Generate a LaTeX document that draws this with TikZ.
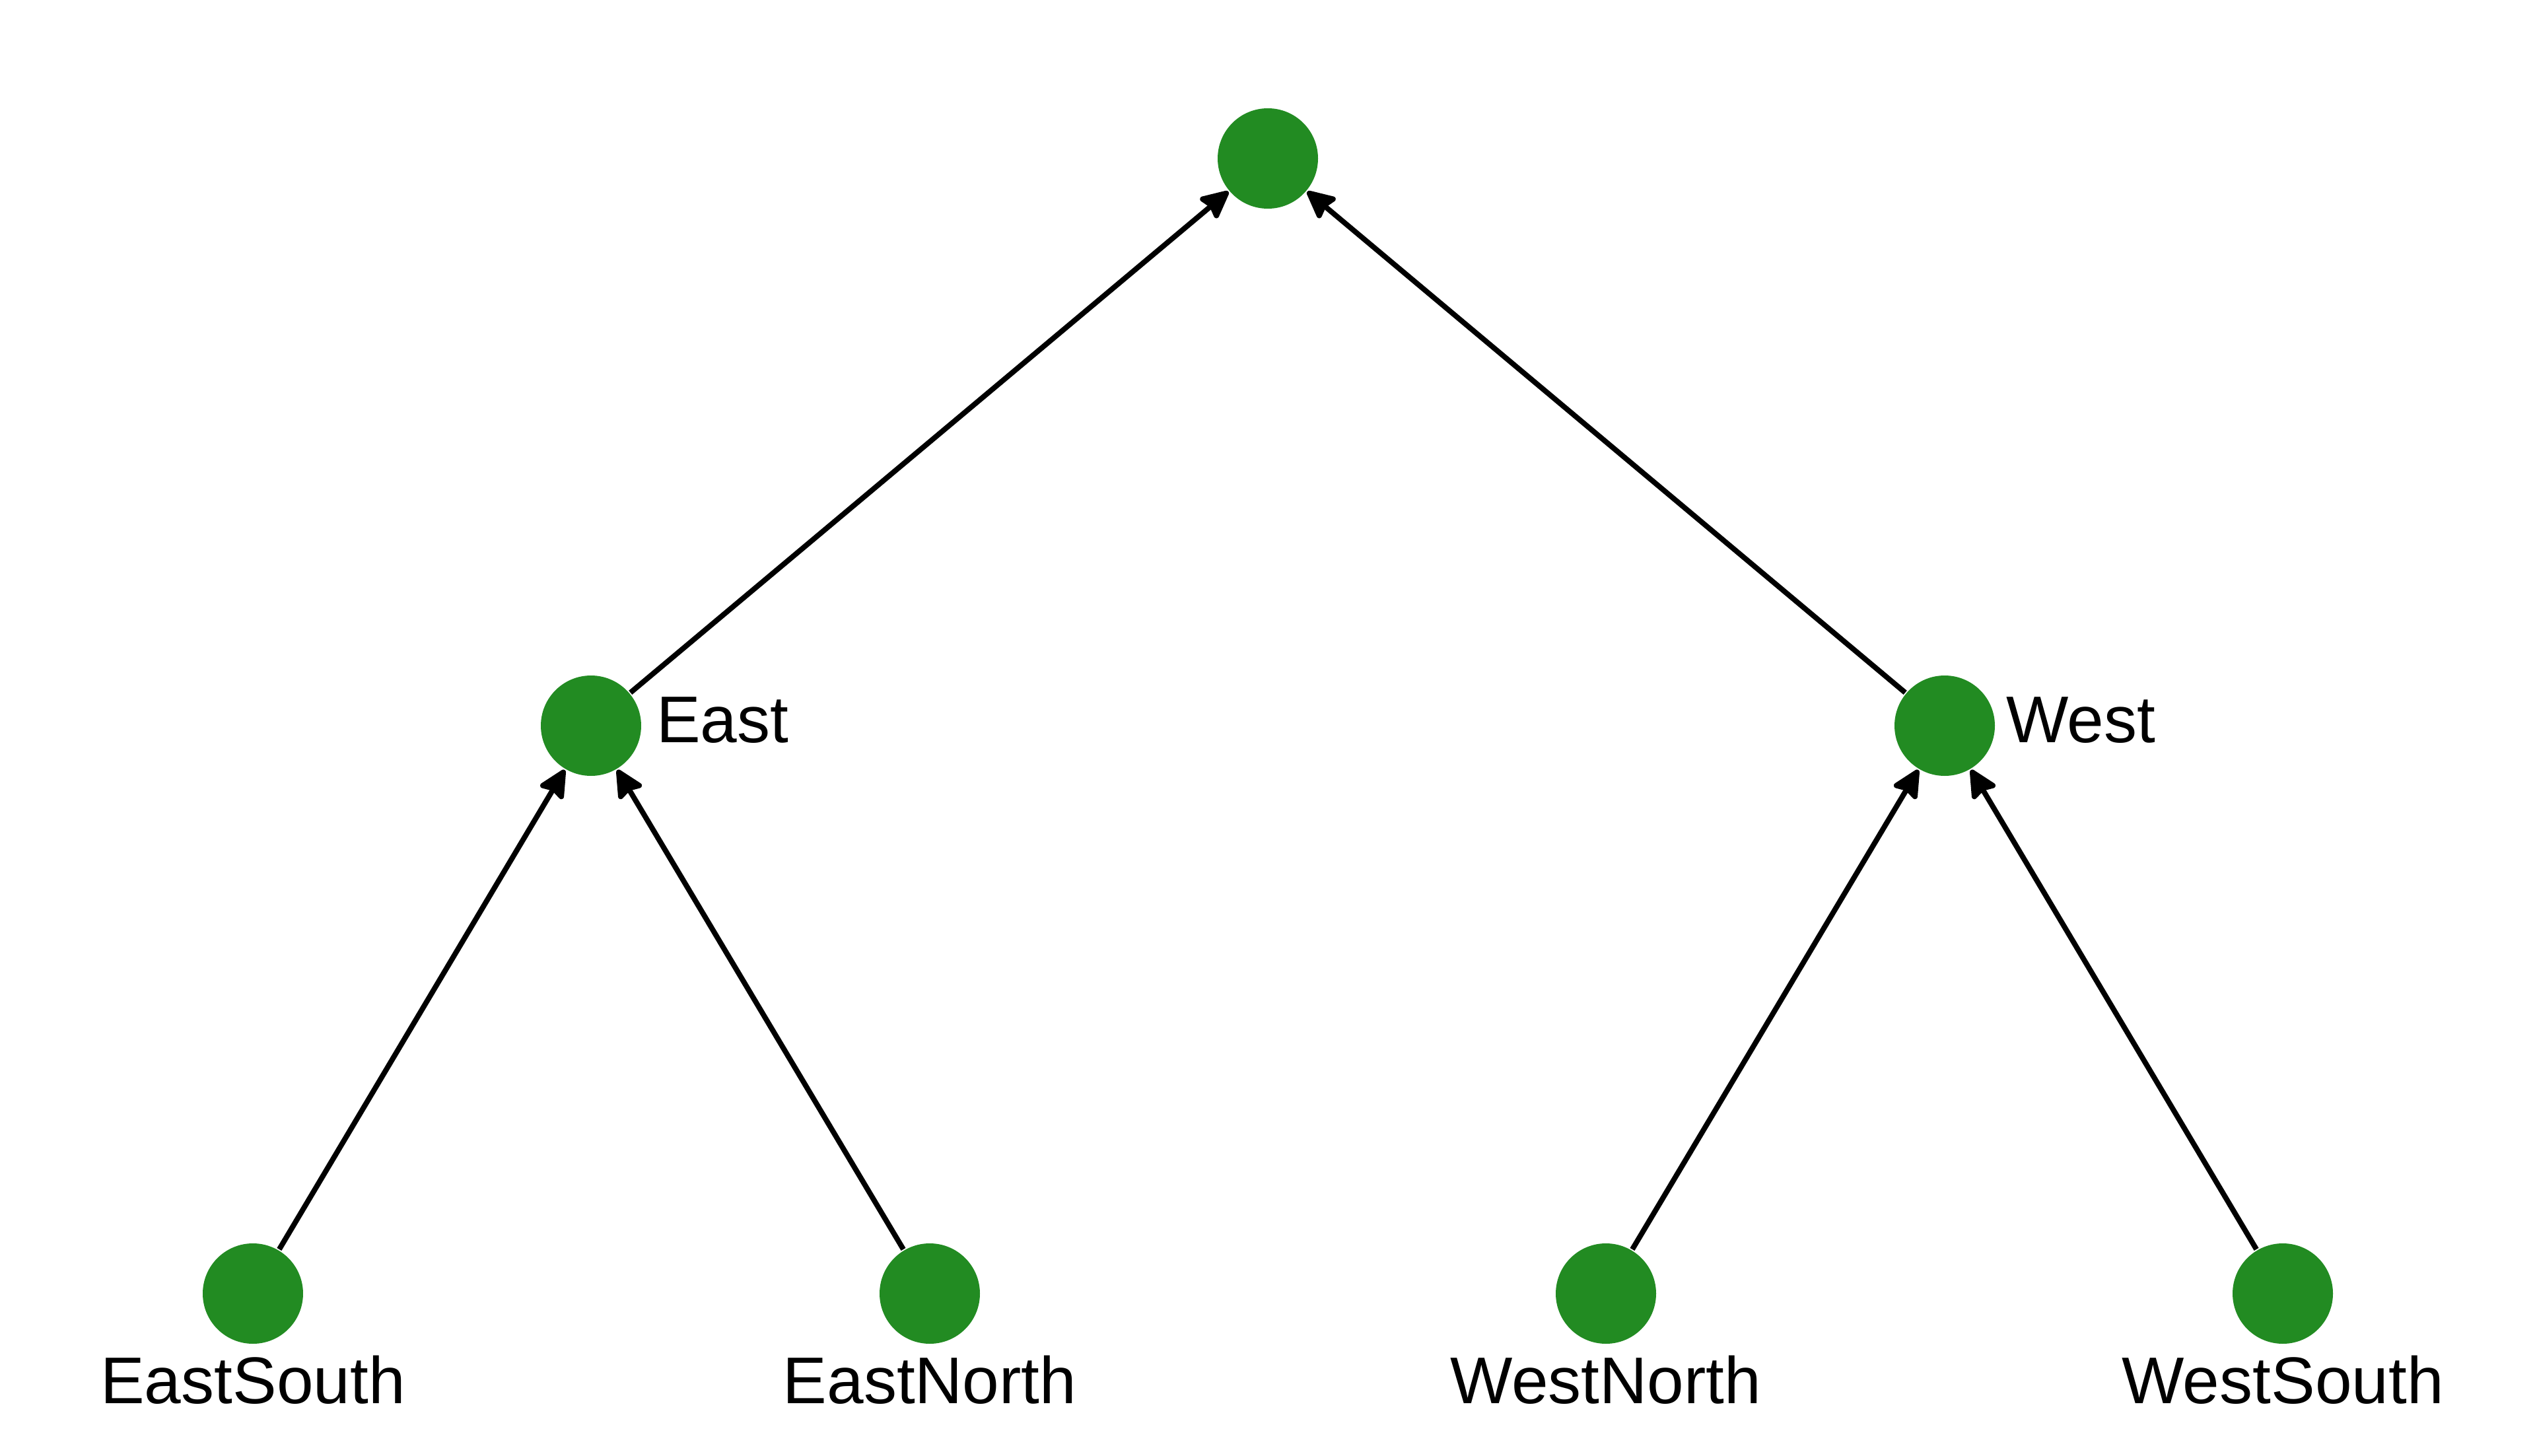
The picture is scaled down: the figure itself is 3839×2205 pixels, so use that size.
\documentclass[tikz,border=0pt]{standalone}
\usepackage{fontspec}
\setmainfont{Liberation Sans}
\usetikzlibrary{arrows.meta}
\definecolor{nodegreen}{RGB}{34,139,34}
\begin{document}
\begin{tikzpicture}[x=0.1pt,y=-0.1pt,
  dot/.style={circle,fill=nodegreen,inner sep=0pt,minimum size=15.2pt},
  lab/.style={font=\fontsize{10pt}{12pt}\selectfont,inner sep=0pt,text=black},
  edge/.style={line width=0.8pt,draw=black,-{Stealth[length=4.8pt,width=4.6pt,inset=0.6pt,round]}}]
\useasboundingbox (0,0) rectangle (3839,2205);
\node[dot] (root) at (1920,240) {};
\node[dot] (east) at (895,1099) {};
\node[dot] (west) at (2945,1099) {};
\node[dot] (es) at (383,1959) {};
\node[dot] (en) at (1408,1959) {};
\node[dot] (wn) at (2432,1959) {};
\node[dot] (ws) at (3457,1959) {};
\node[lab,anchor=west] (eastl) at (992,1091) {East};
\node[lab,anchor=west] (westl) at (3036,1091) {West};
\node[lab,anchor=base] (esl) at (383,2125) {EastSouth};
\node[lab,anchor=base] (enl) at (1408,2125) {EastNorth};
\node[lab,anchor=base] (wnl) at (2432,2125) {WestNorth};
\node[lab,anchor=base] (wsl) at (3457,2125) {WestSouth};
\draw[edge] (east) -- (root);
\draw[edge] (west) -- (root);
\draw[edge] (es) -- (east);
\draw[edge] (en) -- (east);
\draw[edge] (wn) -- (west);
\draw[edge] (ws) -- (west);
\end{tikzpicture}
\end{document}
